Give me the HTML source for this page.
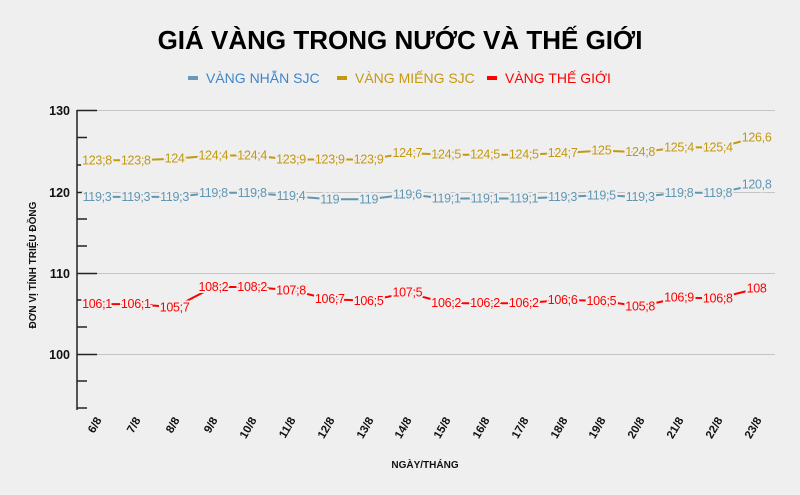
<!DOCTYPE html>
<html><head><meta charset="utf-8"><style>
html,body{margin:0;padding:0;background:#efefef}
svg{display:block}
text{font-family:"Liberation Sans",sans-serif}
.l text{font-size:12.5px;text-anchor:middle;paint-order:stroke;stroke:#efefef;stroke-width:4px;letter-spacing:-0.3px}
</style></head><body>
<svg width="800" height="495" viewBox="0 0 800 495">
<rect width="800" height="495" fill="#efefef"/>
<text x="400" y="49" text-anchor="middle" font-size="26" font-weight="bold" fill="#000">GIÁ VÀNG TRONG NƯỚC VÀ THẾ GIỚI</text>
<rect x="188" y="76" width="10" height="4" fill="#6a9ab5"/>
<text x="206" y="83" font-size="14" fill="#3f86c8">VÀNG NHẪN SJC</text>
<rect x="337" y="76" width="10" height="4" fill="#c4980f"/>
<text x="355" y="83" font-size="14" fill="#c4980f">VÀNG MIẾNG SJC</text>
<rect x="487" y="76" width="10" height="4" fill="#f00"/>
<text x="505" y="83" font-size="14" fill="#f00">VÀNG THẾ GIỚI</text>
<g stroke="#c4c4c4" stroke-width="1">
<line x1="77" y1="110.5" x2="775" y2="110.5"/><line x1="77" y1="192.5" x2="775" y2="192.5"/>
<line x1="77" y1="273.5" x2="775" y2="273.5"/><line x1="77" y1="354.5" x2="775" y2="354.5"/>
</g>
<g stroke="#222" stroke-width="1.5">
<line x1="77" y1="110" x2="77" y2="410"/>
<line x1="77" y1="110.5" x2="97" y2="110.5"/><line x1="77" y1="192.5" x2="97" y2="192.5"/>
<line x1="77" y1="273.5" x2="97" y2="273.5"/><line x1="77" y1="354.5" x2="97" y2="354.5"/>
<line x1="77" y1="137.5" x2="87" y2="137.5"/><line x1="77" y1="165" x2="87" y2="165"/>
<line x1="77" y1="219" x2="87" y2="219"/><line x1="77" y1="246" x2="87" y2="246"/>
<line x1="77" y1="300" x2="87" y2="300"/><line x1="77" y1="327" x2="87" y2="327"/>
<line x1="77" y1="381" x2="87" y2="381"/><line x1="77" y1="408" x2="87" y2="408"/>
</g>
<g font-size="12.5" font-weight="bold" text-anchor="end" fill="#111">
<text x="70" y="115">130</text><text x="70" y="197">120</text><text x="70" y="278">110</text><text x="70" y="359">100</text>
</g>
<text transform="translate(36,265) rotate(-90)" font-size="10" font-weight="bold" text-anchor="middle" fill="#111">ĐƠN VỊ TÍNH TRIỆU ĐỒNG</text>
<text x="425" y="468" font-size="10" font-weight="bold" text-anchor="middle" fill="#111">NGÀY/THÁNG</text>
<g font-size="11.5" font-weight="bold" fill="#111" text-anchor="end">
<text transform="translate(102,420) rotate(-60)">6/8</text>
<text transform="translate(141,420) rotate(-60)">7/8</text>
<text transform="translate(180,420) rotate(-60)">8/8</text>
<text transform="translate(218,420) rotate(-60)">9/8</text>
<text transform="translate(257,420) rotate(-60)">10/8</text>
<text transform="translate(296,420) rotate(-60)">11/8</text>
<text transform="translate(335,420) rotate(-60)">12/8</text>
<text transform="translate(374,420) rotate(-60)">13/8</text>
<text transform="translate(412,420) rotate(-60)">14/8</text>
<text transform="translate(451,420) rotate(-60)">15/8</text>
<text transform="translate(490,420) rotate(-60)">16/8</text>
<text transform="translate(529,420) rotate(-60)">17/8</text>
<text transform="translate(568,420) rotate(-60)">18/8</text>
<text transform="translate(606,420) rotate(-60)">19/8</text>
<text transform="translate(645,420) rotate(-60)">20/8</text>
<text transform="translate(684,420) rotate(-60)">21/8</text>
<text transform="translate(723,420) rotate(-60)">22/8</text>
<text transform="translate(762,420) rotate(-60)">23/8</text>
</g>
<polyline fill="none" stroke="#c4980f" stroke-width="2" points="97,160.3 135.8,160.3 174.6,158.7 213.4,155.5 252.2,155.5 291,159.5 329.8,159.5 368.6,159.5 407.4,153 446.2,154.7 485,154.7 523.8,154.7 562.6,153 601.4,150.6 640.2,152.2 679,147.4 717.8,147.4 756.6,137.6"/>
<polyline fill="none" stroke="#5f96b3" stroke-width="2" points="97,196.9 135.8,196.9 174.6,196.9 213.4,192.8 252.2,192.8 291,196.1 329.8,199.3 368.6,199.3 407.4,194.4 446.2,198.5 485,198.5 523.8,198.5 562.6,196.9 601.4,195.3 640.2,196.9 679,192.8 717.8,192.8 756.6,184.7"/>
<polyline fill="none" stroke="#f00" stroke-width="2" points="97,304.1 135.8,304.1 174.6,307.3 213.4,287 252.2,287 291,290.3 329.8,299.2 368.6,300.8 407.4,292.7 446.2,303.2 485,303.2 523.8,303.2 562.6,300 601.4,300.8 640.2,306.5 679,297.6 717.8,298.4 756.6,288.6"/>
<g class="l" fill="#c4980f">
<text x="97" y="164.3">123;8</text><text x="135.8" y="164.3">123;8</text><text x="174.6" y="162.7">124</text><text x="213.4" y="159.5">124;4</text><text x="252.2" y="159.5">124;4</text><text x="291" y="163.5">123;9</text><text x="329.8" y="163.5">123;9</text><text x="368.6" y="163.5">123;9</text><text x="407.4" y="157">124;7</text><text x="446.2" y="158.7">124;5</text><text x="485" y="158.7">124;5</text><text x="523.8" y="158.7">124;5</text><text x="562.6" y="157">124;7</text><text x="601.4" y="154.6">125</text><text x="640.2" y="156.2">124;8</text><text x="679" y="151.4">125;4</text><text x="717.8" y="151.4">125;4</text><text x="756.6" y="141.6">126,6</text>
</g>
<g class="l" fill="#5f96b3">
<text x="97" y="200.9">119;3</text><text x="135.8" y="200.9">119;3</text><text x="174.6" y="200.9">119;3</text><text x="213.4" y="196.8">119;8</text><text x="252.2" y="196.8">119;8</text><text x="291" y="200.1">119;4</text><text x="329.8" y="203.3">119</text><text x="368.6" y="203.3">119</text><text x="407.4" y="198.4">119;6</text><text x="446.2" y="202.5">119;1</text><text x="485" y="202.5">119;1</text><text x="523.8" y="202.5">119;1</text><text x="562.6" y="200.9">119;3</text><text x="601.4" y="199.3">119;5</text><text x="640.2" y="200.9">119;3</text><text x="679" y="196.8">119;8</text><text x="717.8" y="196.8">119;8</text><text x="756.6" y="188.7">120,8</text>
</g>
<g class="l" fill="#f00">
<text x="97" y="308.1">106;1</text><text x="135.8" y="308.1">106;1</text><text x="174.6" y="311.3">105;7</text><text x="213.4" y="291">108;2</text><text x="252.2" y="291">108;2</text><text x="291" y="294.3">107;8</text><text x="329.8" y="303.2">106;7</text><text x="368.6" y="304.8">106;5</text><text x="407.4" y="296.7">107;5</text><text x="446.2" y="307.2">106;2</text><text x="485" y="307.2">106;2</text><text x="523.8" y="307.2">106;2</text><text x="562.6" y="304">106;6</text><text x="601.4" y="304.8">106;5</text><text x="640.2" y="310.5">105;8</text><text x="679" y="301.6">106;9</text><text x="717.8" y="302.4">106;8</text><text x="756.6" y="292.6">108</text>
</g>
</svg>
</body></html>
